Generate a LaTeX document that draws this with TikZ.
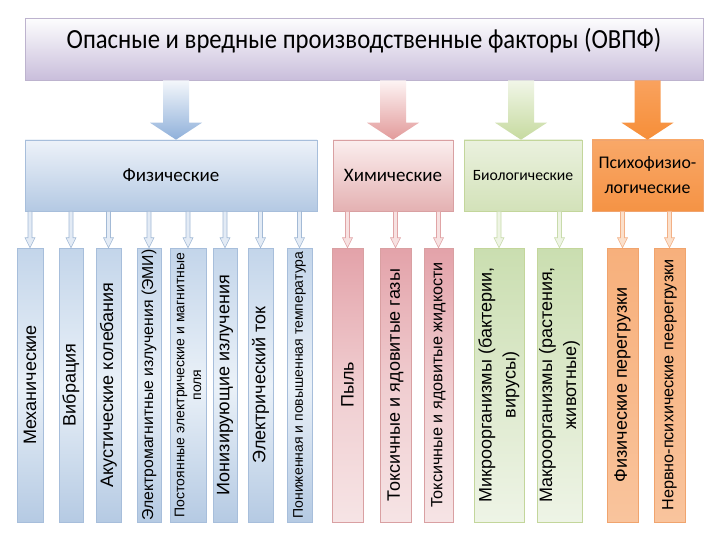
\documentclass[tikz,border=0pt]{standalone}
\usepackage{fontspec}
\setmainfont{Carlito}
\newfontfamily\arialf{Liberation Sans}
\usetikzlibrary{calc}
\definecolor{tiTop}{HTML}{FDFDFE}\definecolor{tiBot}{HTML}{C9BEDB}\definecolor{tiDr}{HTML}{BDB3CE}
\definecolor{bL}{HTML}{C3D5EA}\definecolor{bM}{HTML}{EAF1F8}\definecolor{bR}{HTML}{B5CAE3}\definecolor{bD}{HTML}{A7BEDB}
\definecolor{pL}{HTML}{E3A2A9}\definecolor{pM}{HTML}{F0CDD0}\definecolor{pR}{HTML}{F6E4E5}\definecolor{pD}{HTML}{D9A0A2}
\definecolor{gL}{HTML}{CADEB0}\definecolor{gM}{HTML}{DDE9CC}\definecolor{gR}{HTML}{EEF4E6}\definecolor{gD}{HTML}{C3D69B}
\definecolor{oL}{HTML}{F7B07C}\definecolor{oM}{HTML}{F8B98A}\definecolor{oR}{HTML}{F9C49D}\definecolor{oD}{HTML}{F0A46E}
\definecolor{cbT}{HTML}{EDF2F9}\definecolor{cbB}{HTML}{B4C9E3}
\definecolor{cpT}{HTML}{FBEEEE}\definecolor{cpB}{HTML}{E4B1B2}
\definecolor{cgT}{HTML}{EAF1DE}\definecolor{cgB}{HTML}{D3E2B9}
\definecolor{coT}{HTML}{F9A868}\definecolor{coB}{HTML}{F59345}
\definecolor{abT}{HTML}{F4F7FB}\definecolor{abB}{HTML}{8FB0DA}
\definecolor{arT}{HTML}{FDF4F4}\definecolor{arB}{HTML}{E29A9A}
\definecolor{agT}{HTML}{F1F6E8}\definecolor{agB}{HTML}{C6DA9F}
\definecolor{aoT}{HTML}{F9A25E}\definecolor{aoB}{HTML}{F68E38}
\definecolor{sbF}{HTML}{E3EBF5}\definecolor{sbD}{HTML}{A3BAD6}
\definecolor{spF}{HTML}{F7E1E1}\definecolor{spD}{HTML}{E0A4A6}
\definecolor{sgF}{HTML}{EEF4E4}\definecolor{sgD}{HTML}{C8DBAB}
\definecolor{soF}{HTML}{FBE0CB}\definecolor{soD}{HTML}{F3B085}
\tikzset{
  catbox/.style={minimum height=71pt, inner sep=2pt, align=center, font=\fontsize{19}{24}\selectfont, line width=0.6pt},
  vb/.style={rotate=90, minimum width=274pt, minimum height=#1, inner sep=1pt, align=center, line width=0.5pt},
  vblue/.style={top color=bL, bottom color=bR, middle color=bM, draw=bD},
  vpink/.style={top color=pL, bottom color=pR, middle color=pM, draw=pD},
  vgreen/.style={top color=gL, bottom color=gR, middle color=gM, draw=gD},
  vorange/.style={top color=oL, bottom color=oR, middle color=oM, draw=oD},
  fA/.style={font=\arialf\fontsize{18}{24}\selectfont},
  fB/.style={font=\arialf\fontsize{14}{17}\selectfont},
  fC/.style={font=\arialf\fontsize{16.2}{20}\selectfont},
  fE/.style={font=\arialf\fontsize{15.8}{20}\selectfont},
}
% block arrow: #1 style, #2 start, #3 end, #4 half shaft, #5 half head, #6 head length
\newcommand\blockarr[6]{%
  \path[#1] let \p1=(#2), \p2=(#3) in
    (\x1-#4,\y1) -- (\x1-#4,\y2+#6) -- (\x1-#5,\y2+#6) -- (\x1,\y2)
    -- (\x1+#5,\y2+#6) -- (\x1+#4,\y2+#6) -- (\x1+#4,\y1) -- cycle;}
\begin{document}
\begin{tikzpicture}[x=1pt,y=-1pt]
\useasboundingbox (0,0) rectangle (720,540);
\fill[white] (0,0) rectangle (720,540);
% title
\node[minimum width=678pt, minimum height=62pt, inner sep=0pt, text height=18pt, text depth=18pt, top color=tiTop, bottom color=tiBot, draw=tiDr, line width=0.6pt, font=\fontsize{24.7}{30}\selectfont] (title) at (364,49) {\scalebox{1}[1.12]{Опасные и вредные производственные факторы (ОВПФ)}};
% categories
\node[catbox, minimum width=292pt, top color=cbT, bottom color=cbB, draw=bD] (phys) at (171,175.5) {Физические};
\node[catbox, minimum width=120pt, top color=cpT, bottom color=cpB, draw=pD] (chem) at (393,175.5) {Химические};
\node[catbox, minimum width=118pt, top color=cgT, bottom color=cgB, draw=gD, font=\fontsize{15.7}{18}\selectfont] (bio) at (523,175.5) {Биологические};
\node[catbox, minimum width=111pt, top color=coT, bottom color=coB, draw=oD, font=\fontsize{17.8}{25}\selectfont] (psy) at (647.5,175.5) {Психофизио-\\логические};
% big arrows
\coordinate (aP) at ([xshift=5pt]phys.north);
\coordinate (aC) at (chem.north);
\coordinate (aB) at ([xshift=-2pt]bio.north);
\coordinate (aY) at (psy.north);
\blockarr{top color=abT, bottom color=abB}{title.south -| aP}{aP}{13pt}{26pt}{17pt}
\blockarr{top color=arT, bottom color=arB}{title.south -| aC}{aC}{13pt}{26pt}{17pt}
\blockarr{top color=agT, bottom color=agB}{title.south -| aB}{aB}{13pt}{26pt}{17pt}
\blockarr{top color=aoT, bottom color=aoB}{title.south -| aY}{aY}{13pt}{26pt}{17pt}
% vertical boxes
\node[vb=26pt, vblue, fA] (v1) at (30,385) {Механические};
\node[vb=24pt, vblue, fA] (v2) at (71,385) {Вибрация};
\node[vb=25pt, vblue, fA] (v3) at (108.5,385) {Акустические колебания};
\node[vb=24pt, vblue, fE] (v4) at (149,385) {Электромагнитные излучения (ЭМИ)};
\node[vb=36pt, vblue, fB] (v5) at (188,385) {Постоянные электрические и магнитные\\поля};
\node[vb=24pt, vblue, fA] (v6) at (225,385) {Ионизирующие излучения};
\node[vb=25pt, vblue, fA] (v7) at (260.5,385) {Электрический ток};
\node[vb=25pt, vblue, fB] (v8) at (299.5,385) {Пониженная и повышенная температура};
\node[vb=31pt, vpink, fA] (v9) at (347.5,385) {Пыль};
\node[vb=31pt, vpink, fA] (v10) at (395.5,385) {Токсичные и ядовитые газы};
\node[vb=29pt, vpink, fC] (v11) at (438.5,385) {Токсичные и ядовитые жидкости};
\node[vb=50pt, vgreen, fA] (v12) at (499,385) {Микроорганизмы (бактерии,\\вирусы)};
\node[vb=45pt, vgreen, fA] (v13) at (559.5,385) {Макроорганизмы (растения,\\животные)};
\node[vb=31pt, vorange, fA] (v14) at (622.5,385) {Физические перегрузки};
\node[vb=31pt, vorange, fC] (v15) at (669.5,385) {Нервно-психические пеерегрузки};
% small arrows
\foreach \v in {v1,v2,v3,v4,v5,v6,v7,v8}
  {\blockarr{fill=sbF, draw=sbD, line width=0.6pt}{phys.south -| \v.east}{\v.east}{2pt}{5pt}{10pt}}
\foreach \v in {v9,v10,v11}
  {\blockarr{fill=spF, draw=spD, line width=0.6pt}{chem.south -| \v.east}{\v.east}{2pt}{5pt}{10pt}}
\foreach \v in {v12,v13}
  {\blockarr{fill=sgF, draw=sgD, line width=0.6pt}{bio.south -| \v.east}{\v.east}{2pt}{5pt}{10pt}}
\foreach \v in {v14,v15}
  {\blockarr{fill=soF, draw=soD, line width=0.6pt}{psy.south -| \v.east}{\v.east}{2pt}{5pt}{10pt}}
\end{tikzpicture}
\end{document}
